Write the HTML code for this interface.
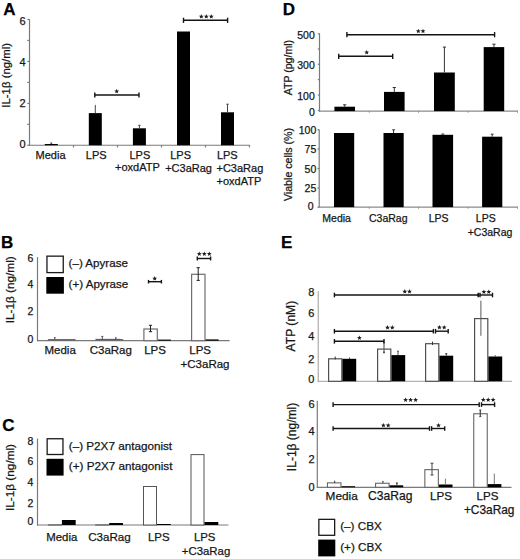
<!DOCTYPE html>
<html><head><meta charset="utf-8"><style>
html,body{margin:0;padding:0;background:#fff;}
body{width:520px;height:559px;overflow:hidden;}
svg{display:block;font-family:"Liberation Sans",sans-serif;}
</style></head><body>
<svg width="520" height="559" viewBox="0 0 520 559" shape-rendering="auto">
<rect width="520" height="559" fill="#fff"/>
<text x="3.3" y="15" font-size="17" text-anchor="start" font-weight="bold" fill="#000" stroke="#000" stroke-width="0.25">A</text>
<line x1="29.5" y1="19.3" x2="29.5" y2="145.85" stroke="#7a7a7a" stroke-width="1.2"/>
<line x1="29.0" y1="145.25" x2="249.8" y2="145.25" stroke="#7a7a7a" stroke-width="1.2"/>
<line x1="27.3" y1="145.25" x2="29.5" y2="145.25" stroke="#7a7a7a" stroke-width="1.2"/>
<line x1="27.3" y1="124.28999999999999" x2="29.5" y2="124.28999999999999" stroke="#7a7a7a" stroke-width="1.2"/>
<line x1="27.3" y1="103.33" x2="29.5" y2="103.33" stroke="#7a7a7a" stroke-width="1.2"/>
<line x1="27.3" y1="82.37" x2="29.5" y2="82.37" stroke="#7a7a7a" stroke-width="1.2"/>
<line x1="27.3" y1="61.41" x2="29.5" y2="61.41" stroke="#7a7a7a" stroke-width="1.2"/>
<line x1="27.3" y1="40.44999999999999" x2="29.5" y2="40.44999999999999" stroke="#7a7a7a" stroke-width="1.2"/>
<line x1="27.3" y1="19.489999999999995" x2="29.5" y2="19.489999999999995" stroke="#7a7a7a" stroke-width="1.2"/>
<text x="25.7" y="148.4" font-size="11" text-anchor="end" font-weight="normal" fill="#161616" stroke="#161616" stroke-width="0.25">0</text>
<text x="25.7" y="107.2" font-size="11" text-anchor="end" font-weight="normal" fill="#161616" stroke="#161616" stroke-width="0.25">2</text>
<text x="25.7" y="65.9" font-size="11" text-anchor="end" font-weight="normal" fill="#161616" stroke="#161616" stroke-width="0.25">4</text>
<text x="25.7" y="24.6" font-size="11" text-anchor="end" font-weight="normal" fill="#161616" stroke="#161616" stroke-width="0.25">6</text>
<line x1="73.5" y1="145.25" x2="73.5" y2="147.45" stroke="#7a7a7a" stroke-width="1.2"/>
<line x1="117.5" y1="145.25" x2="117.5" y2="147.45" stroke="#7a7a7a" stroke-width="1.2"/>
<line x1="161.5" y1="145.25" x2="161.5" y2="147.45" stroke="#7a7a7a" stroke-width="1.2"/>
<line x1="205.5" y1="145.25" x2="205.5" y2="147.45" stroke="#7a7a7a" stroke-width="1.2"/>
<line x1="249.5" y1="145.25" x2="249.5" y2="147.45" stroke="#7a7a7a" stroke-width="1.2"/>
<text transform="translate(10.3,75.3) rotate(-90)" font-size="11.4" text-anchor="middle" fill="#161616" stroke="#161616" stroke-width="0.25">IL-1&#946; (ng/ml)</text>
<rect x="44.8" y="144.0" width="13.0" height="1.25" fill="#000"/>
<line x1="51.3" y1="143.0" x2="51.3" y2="144.0" stroke="#444" stroke-width="1.0"/>
<line x1="50.3" y1="143.0" x2="52.3" y2="143.0" stroke="#444" stroke-width="1.0"/>
<rect x="88.8" y="113.1" width="13.0" height="32.150000000000006" fill="#000"/>
<line x1="95.3" y1="105.3" x2="95.3" y2="113.1" stroke="#444" stroke-width="1.0"/>
<line x1="95.0" y1="105.3" x2="95.6" y2="105.3" stroke="#444" stroke-width="1.0"/>
<rect x="132.9" y="128.3" width="13.0" height="16.94999999999999" fill="#000"/>
<line x1="139.4" y1="125.3" x2="139.4" y2="128.3" stroke="#444" stroke-width="1.0"/>
<line x1="138.20000000000002" y1="125.3" x2="140.6" y2="125.3" stroke="#444" stroke-width="1.0"/>
<rect x="177.0" y="31.5" width="13.0" height="113.75" fill="#000"/>
<rect x="221.0" y="112.3" width="13.0" height="32.95" fill="#000"/>
<line x1="227.5" y1="104.2" x2="227.5" y2="112.3" stroke="#444" stroke-width="1.0"/>
<line x1="226.3" y1="104.2" x2="228.7" y2="104.2" stroke="#444" stroke-width="1.0"/>
<text x="35.6" y="158.7" font-size="11" text-anchor="start" font-weight="normal" fill="#161616" stroke="#161616" stroke-width="0.25">Media</text>
<text x="85.8" y="158.6" font-size="11" text-anchor="start" font-weight="normal" fill="#161616" stroke="#161616" stroke-width="0.25">LPS</text>
<text x="129.5" y="158.6" font-size="11" text-anchor="start" font-weight="normal" fill="#161616" stroke="#161616" stroke-width="0.25">LPS</text>
<text x="115.0" y="171.3" font-size="11" text-anchor="start" font-weight="normal" fill="#161616" stroke="#161616" stroke-width="0.25">+oxdATP</text>
<text x="170.2" y="158.6" font-size="11" text-anchor="start" font-weight="normal" fill="#161616" stroke="#161616" stroke-width="0.25">LPS</text>
<text x="165.2" y="171.8" font-size="11" text-anchor="start" font-weight="normal" fill="#161616" stroke="#161616" stroke-width="0.25">+C3aRag</text>
<text x="216.9" y="158.6" font-size="11" text-anchor="start" font-weight="normal" fill="#161616" stroke="#161616" stroke-width="0.25">LPS</text>
<text x="216.5" y="172.0" font-size="11" text-anchor="start" font-weight="normal" fill="#161616" stroke="#161616" stroke-width="0.25">+C3aRag</text>
<text x="216.5" y="185.0" font-size="11" text-anchor="start" font-weight="normal" fill="#161616" stroke="#161616" stroke-width="0.25">+oxdATP</text>
<line x1="94.8" y1="95.0" x2="139.0" y2="95.0" stroke="#141414" stroke-width="1.4"/>
<line x1="94.8" y1="92.4" x2="94.8" y2="97.6" stroke="#141414" stroke-width="1.4"/>
<line x1="139.0" y1="92.4" x2="139.0" y2="97.6" stroke="#141414" stroke-width="1.4"/>
<polygon points="116.70,88.80 117.36,90.39 119.08,90.53 117.77,91.65 118.17,93.32 116.70,92.42 115.23,93.32 115.63,91.65 114.32,90.53 116.04,90.39" fill="#1e1e1e"/>
<line x1="183.5" y1="20.3" x2="227.6" y2="20.3" stroke="#141414" stroke-width="1.4"/>
<line x1="183.5" y1="17.7" x2="183.5" y2="22.900000000000002" stroke="#141414" stroke-width="1.4"/>
<line x1="227.6" y1="17.7" x2="227.6" y2="22.900000000000002" stroke="#141414" stroke-width="1.4"/>
<polygon points="201.30,14.10 201.96,15.69 203.68,15.83 202.37,16.95 202.77,18.62 201.30,17.73 199.83,18.62 200.23,16.95 198.92,15.83 200.64,15.69" fill="#1e1e1e"/>
<polygon points="206.30,14.10 206.96,15.69 208.68,15.83 207.37,16.95 207.77,18.62 206.30,17.73 204.83,18.62 205.23,16.95 203.92,15.83 205.64,15.69" fill="#1e1e1e"/>
<polygon points="211.30,14.10 211.96,15.69 213.68,15.83 212.37,16.95 212.77,18.62 211.30,17.73 209.83,18.62 210.23,16.95 208.92,15.83 210.64,15.69" fill="#1e1e1e"/>
<text x="0.9" y="248.1" font-size="17" text-anchor="start" font-weight="bold" fill="#000" stroke="#000" stroke-width="0.25">B</text>
<line x1="37.5" y1="257.1" x2="37.5" y2="341.3" stroke="#7a7a7a" stroke-width="1.2"/>
<line x1="37.0" y1="340.7" x2="229.6" y2="340.7" stroke="#7a7a7a" stroke-width="1.2"/>
<text x="33.3" y="343.09999999999997" font-size="10.5" text-anchor="end" font-weight="normal" fill="#161616" stroke="#161616" stroke-width="0.25">0</text>
<text x="33.3" y="315.2" font-size="10.5" text-anchor="end" font-weight="normal" fill="#161616" stroke="#161616" stroke-width="0.25">2</text>
<text x="33.3" y="287.7" font-size="10.5" text-anchor="end" font-weight="normal" fill="#161616" stroke="#161616" stroke-width="0.25">4</text>
<text x="33.3" y="261.5" font-size="10.5" text-anchor="end" font-weight="normal" fill="#161616" stroke="#161616" stroke-width="0.25">6</text>
<text transform="translate(14.2,289.8) rotate(-90)" font-size="11.8" text-anchor="middle" fill="#161616" stroke="#161616" stroke-width="0.25">IL-1&#946; (ng/ml)</text>
<rect x="143.9" y="329.0" width="13.399999999999995" height="11.700000000000012" fill="#fff" stroke="#6e6e6e" stroke-width="1.2"/>
<rect x="157.9" y="339.6" width="13.0" height="1.099999999999966" fill="#000"/>
<rect x="191.6" y="274.3" width="13.399999999999995" height="66.4" fill="#fff" stroke="#6e6e6e" stroke-width="1.2"/>
<rect x="205.6" y="339.4" width="13.0" height="1.3000000000000114" fill="#000"/>
<line x1="47.9" y1="339.7" x2="75.5" y2="339.7" stroke="#333" stroke-width="0.9"/>
<line x1="95.60000000000001" y1="339.7" x2="123.2" y2="339.7" stroke="#333" stroke-width="0.9"/>
<line x1="95.60000000000001" y1="339.3" x2="120.2" y2="339.3" stroke="#555" stroke-width="0.7"/>
<line x1="54.8" y1="337.6" x2="54.8" y2="339.6" stroke="#444" stroke-width="0.9"/>
<line x1="54.0" y1="337.6" x2="55.599999999999994" y2="337.6" stroke="#444" stroke-width="0.9"/>
<line x1="102.3" y1="336.4" x2="102.3" y2="339.3" stroke="#444" stroke-width="0.9"/>
<line x1="101.3" y1="336.4" x2="103.3" y2="336.4" stroke="#444" stroke-width="0.9"/>
<line x1="115.8" y1="337.8" x2="115.8" y2="339.9" stroke="#444" stroke-width="0.9"/>
<line x1="115.0" y1="337.8" x2="116.6" y2="337.8" stroke="#444" stroke-width="0.9"/>
<line x1="150.5" y1="325.3" x2="150.5" y2="331.7" stroke="#1e1e1e" stroke-width="1.0"/>
<line x1="148.9" y1="325.3" x2="152.1" y2="325.3" stroke="#1e1e1e" stroke-width="1.0"/>
<line x1="148.9" y1="331.7" x2="152.1" y2="331.7" stroke="#1e1e1e" stroke-width="1.0"/>
<line x1="198.2" y1="267.7" x2="198.2" y2="280.4" stroke="#1e1e1e" stroke-width="1.0"/>
<line x1="196.6" y1="267.7" x2="199.8" y2="267.7" stroke="#1e1e1e" stroke-width="1.0"/>
<line x1="196.6" y1="280.4" x2="199.8" y2="280.4" stroke="#1e1e1e" stroke-width="1.0"/>
<line x1="148.5" y1="281.7" x2="161.4" y2="281.7" stroke="#141414" stroke-width="1.4"/>
<line x1="148.5" y1="279.9" x2="148.5" y2="283.5" stroke="#141414" stroke-width="1.4"/>
<line x1="161.4" y1="279.9" x2="161.4" y2="283.5" stroke="#141414" stroke-width="1.4"/>
<polygon points="154.70,276.10 155.36,277.69 157.08,277.83 155.77,278.95 156.17,280.62 154.70,279.73 153.23,280.62 153.63,278.95 152.32,277.83 154.04,277.69" fill="#1e1e1e"/>
<line x1="197.3" y1="258.5" x2="210.6" y2="258.5" stroke="#141414" stroke-width="1.4"/>
<line x1="197.3" y1="256.5" x2="197.3" y2="260.5" stroke="#141414" stroke-width="1.4"/>
<line x1="210.6" y1="256.5" x2="210.6" y2="260.5" stroke="#141414" stroke-width="1.4"/>
<polygon points="199.30,251.50 199.96,253.09 201.68,253.23 200.37,254.35 200.77,256.02 199.30,255.12 197.83,256.02 198.23,254.35 196.92,253.23 198.64,253.09" fill="#1e1e1e"/>
<polygon points="204.30,251.50 204.96,253.09 206.68,253.23 205.37,254.35 205.77,256.02 204.30,255.12 202.83,256.02 203.23,254.35 201.92,253.23 203.64,253.09" fill="#1e1e1e"/>
<polygon points="209.30,251.50 209.96,253.09 211.68,253.23 210.37,254.35 210.77,256.02 209.30,255.12 207.83,256.02 208.23,254.35 206.92,253.23 208.64,253.09" fill="#1e1e1e"/>
<rect x="46.949999999999996" y="256.15" width="16.3" height="16.450000000000024" fill="#fff" stroke="#1a1a1a" stroke-width="1.3"/>
<rect x="46.3" y="277.0" width="17.6" height="16.7" fill="#000"/>
<text x="68.6" y="266.9" font-size="11.6" text-anchor="start" font-weight="normal" fill="#161616" stroke="#161616" stroke-width="0.25">(&#8211;) Apyrase</text>
<text x="68.6" y="287.8" font-size="11.6" text-anchor="start" font-weight="normal" fill="#161616" stroke="#161616" stroke-width="0.25">(+) Apyrase</text>
<text x="44.5" y="353.7" font-size="11.5" text-anchor="start" font-weight="normal" fill="#161616" stroke="#161616" stroke-width="0.25">Media</text>
<text x="89.7" y="353.7" font-size="11.5" text-anchor="start" font-weight="normal" fill="#161616" stroke="#161616" stroke-width="0.25">C3aRag</text>
<text x="144.2" y="353.7" font-size="11.5" text-anchor="start" font-weight="normal" fill="#161616" stroke="#161616" stroke-width="0.25">LPS</text>
<text x="189.3" y="353.7" font-size="11.5" text-anchor="start" font-weight="normal" fill="#161616" stroke="#161616" stroke-width="0.25">LPS</text>
<text x="180.6" y="368.3" font-size="11.5" text-anchor="start" font-weight="normal" fill="#161616" stroke="#161616" stroke-width="0.25">+C3aRag</text>
<text x="2.3" y="431.3" font-size="17" text-anchor="start" font-weight="bold" fill="#000" stroke="#000" stroke-width="0.25">C</text>
<line x1="37.5" y1="438.5" x2="37.5" y2="525.6" stroke="#7a7a7a" stroke-width="1.2"/>
<line x1="37.0" y1="525.0" x2="228.4" y2="525.0" stroke="#7a7a7a" stroke-width="1.2"/>
<text x="33.3" y="525.2" font-size="10.5" text-anchor="end" font-weight="normal" fill="#161616" stroke="#161616" stroke-width="0.25">0</text>
<text x="33.3" y="507.09999999999997" font-size="10.5" text-anchor="end" font-weight="normal" fill="#161616" stroke="#161616" stroke-width="0.25">2</text>
<text x="33.3" y="485.59999999999997" font-size="10.5" text-anchor="end" font-weight="normal" fill="#161616" stroke="#161616" stroke-width="0.25">4</text>
<text x="33.3" y="464.7" font-size="10.5" text-anchor="end" font-weight="normal" fill="#161616" stroke="#161616" stroke-width="0.25">6</text>
<text x="33.3" y="444.7" font-size="10.5" text-anchor="end" font-weight="normal" fill="#161616" stroke="#161616" stroke-width="0.25">8</text>
<text transform="translate(14.4,477.5) rotate(-90)" font-size="11.8" text-anchor="middle" fill="#161616" stroke="#161616" stroke-width="0.25">IL-1&#946; (ng/ml)</text>
<rect x="48.4" y="524.9" width="13.0" height="0.10000000000002274" fill="#fff" stroke="#555" stroke-width="1.0"/>
<rect x="61.9" y="520.0" width="13.800000000000004" height="5.0" fill="#000"/>
<rect x="95.7" y="524.9" width="13.0" height="0.10000000000002274" fill="#fff" stroke="#555" stroke-width="1.0"/>
<rect x="109.2" y="523.0" width="13.799999999999997" height="2.0" fill="#000"/>
<rect x="143.5" y="486.5" width="13.0" height="38.5" fill="#fff" stroke="#555" stroke-width="1.0"/>
<rect x="157.0" y="524.0" width="13.800000000000011" height="1.0" fill="#000"/>
<rect x="191.0" y="454.6" width="13.0" height="70.39999999999998" fill="#fff" stroke="#555" stroke-width="1.0"/>
<rect x="204.5" y="522.0" width="13.800000000000011" height="3.0" fill="#000"/>
<rect x="47.15" y="438.75" width="15.8" height="15.749999999999977" fill="#fff" stroke="#1a1a1a" stroke-width="1.3"/>
<rect x="46.5" y="458.8" width="17.1" height="16.8" fill="#000"/>
<text x="68.8" y="449.6" font-size="11.7" text-anchor="start" font-weight="normal" fill="#161616" stroke="#161616" stroke-width="0.25">(&#8211;) P2X7 antagonist</text>
<text x="68.8" y="469.8" font-size="11.7" text-anchor="start" font-weight="normal" fill="#161616" stroke="#161616" stroke-width="0.25">(+) P2X7 antagonist</text>
<text x="46.3" y="540.9" font-size="11.4" text-anchor="start" font-weight="normal" fill="#161616" stroke="#161616" stroke-width="0.25">Media</text>
<text x="88.2" y="541.1" font-size="11.6" text-anchor="start" font-weight="normal" fill="#161616" stroke="#161616" stroke-width="0.25">C3aRag</text>
<text x="148.0" y="541.2" font-size="11.4" text-anchor="start" font-weight="normal" fill="#161616" stroke="#161616" stroke-width="0.25">LPS</text>
<text x="193.9" y="541.2" font-size="11.4" text-anchor="start" font-weight="normal" fill="#161616" stroke="#161616" stroke-width="0.25">LPS</text>
<text x="181.8" y="554.7" font-size="11.4" text-anchor="start" font-weight="normal" fill="#161616" stroke="#161616" stroke-width="0.25">+C3aRag</text>
<text x="282.8" y="15.1" font-size="17" text-anchor="start" font-weight="bold" fill="#000" stroke="#000" stroke-width="0.25">D</text>
<line x1="319.5" y1="33.4" x2="319.5" y2="111.69999999999999" stroke="#7a7a7a" stroke-width="1.2"/>
<line x1="319.0" y1="111.1" x2="518.0" y2="111.1" stroke="#8a8a8a" stroke-width="1.1"/>
<line x1="369.3" y1="111.1" x2="369.3" y2="112.69999999999999" stroke="#8a8a8a" stroke-width="1.0"/>
<line x1="418.6" y1="111.1" x2="418.6" y2="112.69999999999999" stroke="#8a8a8a" stroke-width="1.0"/>
<line x1="468.2" y1="111.1" x2="468.2" y2="112.69999999999999" stroke="#8a8a8a" stroke-width="1.0"/>
<line x1="517.5" y1="111.1" x2="517.5" y2="112.69999999999999" stroke="#8a8a8a" stroke-width="1.0"/>
<line x1="317.8" y1="33.8" x2="319.5" y2="33.8" stroke="#7a7a7a" stroke-width="1.2"/>
<line x1="317.8" y1="49.0" x2="319.5" y2="49.0" stroke="#7a7a7a" stroke-width="1.2"/>
<line x1="317.8" y1="64.3" x2="319.5" y2="64.3" stroke="#7a7a7a" stroke-width="1.2"/>
<line x1="317.8" y1="79.6" x2="319.5" y2="79.6" stroke="#7a7a7a" stroke-width="1.2"/>
<line x1="317.8" y1="95.0" x2="319.5" y2="95.0" stroke="#7a7a7a" stroke-width="1.2"/>
<line x1="317.8" y1="110.5" x2="319.5" y2="110.5" stroke="#7a7a7a" stroke-width="1.2"/>
<text x="314.8" y="38.9" font-size="10.5" text-anchor="end" font-weight="normal" fill="#161616" stroke="#161616" stroke-width="0.25">500</text>
<text x="314.8" y="69.39999999999999" font-size="10.5" text-anchor="end" font-weight="normal" fill="#161616" stroke="#161616" stroke-width="0.25">300</text>
<text x="314.8" y="100.1" font-size="10.5" text-anchor="end" font-weight="normal" fill="#161616" stroke="#161616" stroke-width="0.25">100</text>
<text x="314.8" y="115.6" font-size="10.5" text-anchor="end" font-weight="normal" fill="#161616" stroke="#161616" stroke-width="0.25">0</text>
<text transform="translate(291.5,67.6) rotate(-90)" font-size="10.55" text-anchor="middle" fill="#161616" stroke="#161616" stroke-width="0.25">ATP (pg/ml)</text>
<rect x="334.4" y="106.7" width="20.600000000000023" height="4.3999999999999915" fill="#000"/>
<line x1="344.7" y1="104.8" x2="344.7" y2="106.7" stroke="#333" stroke-width="1.0"/>
<line x1="343.09999999999997" y1="104.8" x2="346.3" y2="104.8" stroke="#333" stroke-width="1.0"/>
<rect x="384.0" y="91.9" width="20.600000000000023" height="19.19999999999999" fill="#000"/>
<line x1="394.3" y1="87.5" x2="394.3" y2="91.9" stroke="#333" stroke-width="1.0"/>
<line x1="392.7" y1="87.5" x2="395.90000000000003" y2="87.5" stroke="#333" stroke-width="1.0"/>
<rect x="434.0" y="72.5" width="20.80000000000001" height="38.599999999999994" fill="#000"/>
<line x1="444.4" y1="47.1" x2="444.4" y2="72.5" stroke="#333" stroke-width="1.0"/>
<line x1="442.79999999999995" y1="47.1" x2="446.0" y2="47.1" stroke="#333" stroke-width="1.0"/>
<rect x="483.7" y="47.1" width="20.5" height="63.99999999999999" fill="#000"/>
<line x1="493.95" y1="44.2" x2="493.95" y2="47.1" stroke="#333" stroke-width="1.0"/>
<line x1="492.34999999999997" y1="44.2" x2="495.55" y2="44.2" stroke="#333" stroke-width="1.0"/>
<line x1="338.7" y1="56.3" x2="392.7" y2="56.3" stroke="#141414" stroke-width="1.4"/>
<line x1="338.7" y1="53.699999999999996" x2="338.7" y2="58.9" stroke="#141414" stroke-width="1.4"/>
<line x1="392.7" y1="53.699999999999996" x2="392.7" y2="58.9" stroke="#141414" stroke-width="1.4"/>
<polygon points="366.70,50.00 367.36,51.59 369.08,51.73 367.77,52.85 368.17,54.52 366.70,53.62 365.23,54.52 365.63,52.85 364.32,51.73 366.04,51.59" fill="#1e1e1e"/>
<line x1="346.9" y1="34.7" x2="494.6" y2="34.7" stroke="#141414" stroke-width="1.4"/>
<line x1="346.9" y1="32.1" x2="346.9" y2="37.300000000000004" stroke="#141414" stroke-width="1.4"/>
<line x1="494.6" y1="32.1" x2="494.6" y2="37.300000000000004" stroke="#141414" stroke-width="1.4"/>
<polygon points="418.30,28.70 418.96,30.29 420.68,30.43 419.37,31.55 419.77,33.22 418.30,32.33 416.83,33.22 417.23,31.55 415.92,30.43 417.64,30.29" fill="#1e1e1e"/>
<polygon points="423.00,28.70 423.66,30.29 425.38,30.43 424.07,31.55 424.47,33.22 423.00,32.33 421.53,33.22 421.93,31.55 420.62,30.43 422.34,30.29" fill="#1e1e1e"/>
<line x1="319.2" y1="129.5" x2="319.2" y2="207.7" stroke="#7a7a7a" stroke-width="1.2"/>
<line x1="318.7" y1="207.1" x2="518.0" y2="207.1" stroke="#8a8a8a" stroke-width="1.1"/>
<line x1="369.3" y1="207.1" x2="369.3" y2="208.7" stroke="#8a8a8a" stroke-width="1.0"/>
<line x1="418.6" y1="207.1" x2="418.6" y2="208.7" stroke="#8a8a8a" stroke-width="1.0"/>
<line x1="468.2" y1="207.1" x2="468.2" y2="208.7" stroke="#8a8a8a" stroke-width="1.0"/>
<line x1="517.5" y1="207.1" x2="517.5" y2="208.7" stroke="#8a8a8a" stroke-width="1.0"/>
<line x1="317.5" y1="129.7" x2="319.2" y2="129.7" stroke="#7a7a7a" stroke-width="1.2"/>
<line x1="317.5" y1="149.0" x2="319.2" y2="149.0" stroke="#7a7a7a" stroke-width="1.2"/>
<line x1="317.5" y1="168.6" x2="319.2" y2="168.6" stroke="#7a7a7a" stroke-width="1.2"/>
<line x1="317.5" y1="188.0" x2="319.2" y2="188.0" stroke="#7a7a7a" stroke-width="1.2"/>
<line x1="317.5" y1="207.1" x2="319.2" y2="207.1" stroke="#7a7a7a" stroke-width="1.2"/>
<text x="316.3" y="134.1" font-size="10.5" text-anchor="end" font-weight="normal" fill="#161616" stroke="#161616" stroke-width="0.25">100</text>
<text x="316.3" y="153.4" font-size="10.5" text-anchor="end" font-weight="normal" fill="#161616" stroke="#161616" stroke-width="0.25">75</text>
<text x="316.3" y="173.0" font-size="10.5" text-anchor="end" font-weight="normal" fill="#161616" stroke="#161616" stroke-width="0.25">50</text>
<text x="316.3" y="192.0" font-size="10.5" text-anchor="end" font-weight="normal" fill="#161616" stroke="#161616" stroke-width="0.25">25</text>
<text x="313.5" y="210.10000000000002" font-size="10.5" text-anchor="end" font-weight="normal" fill="#161616" stroke="#161616" stroke-width="0.25">0</text>
<text transform="translate(292.3,164.5) rotate(-90)" font-size="10.65" text-anchor="middle" fill="#161616" stroke="#161616" stroke-width="0.25">Viable cells (%)</text>
<rect x="334.0" y="133.0" width="20.19999999999999" height="74.1" fill="#000"/>
<rect x="383.5" y="133.0" width="20.19999999999999" height="74.1" fill="#000"/>
<line x1="393.6" y1="129.8" x2="393.6" y2="133.0" stroke="#333" stroke-width="1.0"/>
<line x1="392.20000000000005" y1="129.8" x2="395.0" y2="129.8" stroke="#333" stroke-width="1.0"/>
<rect x="432.5" y="134.8" width="20.600000000000023" height="72.29999999999998" fill="#000"/>
<line x1="442.8" y1="134.0" x2="442.8" y2="134.8" stroke="#333" stroke-width="1.0"/>
<line x1="441.40000000000003" y1="134.0" x2="444.2" y2="134.0" stroke="#333" stroke-width="1.0"/>
<rect x="482.1" y="136.7" width="20.19999999999999" height="70.4" fill="#000"/>
<line x1="492.20000000000005" y1="134.2" x2="492.20000000000005" y2="136.7" stroke="#333" stroke-width="1.0"/>
<line x1="490.80000000000007" y1="134.2" x2="493.6" y2="134.2" stroke="#333" stroke-width="1.0"/>
<text x="322.3" y="222.3" font-size="10.5" text-anchor="start" font-weight="normal" fill="#161616" stroke="#161616" stroke-width="0.25">Media</text>
<text x="369.0" y="222.3" font-size="10.5" text-anchor="start" font-weight="normal" fill="#161616" stroke="#161616" stroke-width="0.25">C3aRag</text>
<text x="428.7" y="222.3" font-size="10.5" text-anchor="start" font-weight="normal" fill="#161616" stroke="#161616" stroke-width="0.25">LPS</text>
<text x="475.8" y="222.3" font-size="10.5" text-anchor="start" font-weight="normal" fill="#161616" stroke="#161616" stroke-width="0.25">LPS</text>
<text x="467.7" y="236.3" font-size="10.5" text-anchor="start" font-weight="normal" fill="#161616" stroke="#161616" stroke-width="0.25">+C3aRag</text>
<text x="280.9" y="248.2" font-size="17" text-anchor="start" font-weight="bold" fill="#000" stroke="#000" stroke-width="0.25">E</text>
<line x1="318.2" y1="291.2" x2="318.2" y2="381.8" stroke="#9a9a9a" stroke-width="1.0"/>
<line x1="317.7" y1="381.3" x2="512.0" y2="381.3" stroke="#a0a0a0" stroke-width="1.0"/>
<text x="314.4" y="383.29999999999995" font-size="11.0" text-anchor="end" font-weight="normal" fill="#161616" stroke="#161616" stroke-width="0.25">0</text>
<text x="314.4" y="362.5" font-size="11.0" text-anchor="end" font-weight="normal" fill="#161616" stroke="#161616" stroke-width="0.25">2</text>
<text x="314.4" y="340.4" font-size="11.0" text-anchor="end" font-weight="normal" fill="#161616" stroke="#161616" stroke-width="0.25">4</text>
<text x="314.4" y="317.09999999999997" font-size="11.0" text-anchor="end" font-weight="normal" fill="#161616" stroke="#161616" stroke-width="0.25">6</text>
<text x="314.4" y="295.9" font-size="11.0" text-anchor="end" font-weight="normal" fill="#161616" stroke="#161616" stroke-width="0.25">8</text>
<text transform="translate(294.6,326.1) rotate(-90)" font-size="12.1" text-anchor="middle" fill="#161616" stroke="#161616" stroke-width="0.25">ATP (nM)</text>
<rect x="328.6" y="358.8" width="13.199999999999978" height="22.50000000000002" fill="#fff" stroke="#505050" stroke-width="1.2"/>
<rect x="342.4" y="358.8" width="13.800000000000011" height="22.5" fill="#000"/>
<rect x="377.6" y="349.1" width="13.199999999999978" height="32.20000000000001" fill="#fff" stroke="#505050" stroke-width="1.2"/>
<rect x="391.4" y="355.1" width="13.800000000000011" height="26.19999999999999" fill="#000"/>
<rect x="425.6" y="343.70000000000005" width="13.199999999999978" height="37.59999999999999" fill="#fff" stroke="#505050" stroke-width="1.2"/>
<rect x="439.4" y="355.7" width="13.800000000000011" height="25.600000000000023" fill="#000"/>
<rect x="474.6" y="318.6" width="13.199999999999978" height="62.70000000000001" fill="#fff" stroke="#505050" stroke-width="1.2"/>
<rect x="488.4" y="356.5" width="13.800000000000011" height="24.80000000000001" fill="#000"/>
<line x1="335.2" y1="356.5" x2="335.2" y2="359.5" stroke="#333" stroke-width="1.0"/>
<line x1="349.5" y1="357.5" x2="349.5" y2="358.8" stroke="#333" stroke-width="1.0"/>
<line x1="384.0" y1="341.5" x2="384.0" y2="352.6" stroke="#555" stroke-width="1.1"/>
<circle cx="384.0" cy="352.4" r="0.9" fill="#333"/>
<line x1="398.0" y1="351.2" x2="398.0" y2="355.1" stroke="#555" stroke-width="1.0"/>
<line x1="397.0" y1="351.2" x2="399.0" y2="351.2" stroke="#555" stroke-width="1.0"/>
<line x1="432.5" y1="341.6" x2="432.5" y2="345.0" stroke="#333" stroke-width="1.0"/>
<line x1="446.3" y1="353.7" x2="446.3" y2="355.7" stroke="#333" stroke-width="1.0"/>
<line x1="445.3" y1="353.7" x2="447.3" y2="353.7" stroke="#333" stroke-width="1.0"/>
<line x1="480.9" y1="300.7" x2="480.9" y2="335.8" stroke="#5a5a5a" stroke-width="1.0"/>
<line x1="495.2" y1="355.2" x2="495.2" y2="356.5" stroke="#333" stroke-width="1.0"/>
<line x1="334.4" y1="295.0" x2="478.3" y2="295.0" stroke="#141414" stroke-width="1.4"/>
<line x1="334.4" y1="292.7" x2="334.4" y2="297.3" stroke="#141414" stroke-width="1.4"/>
<line x1="478.3" y1="292.7" x2="478.3" y2="297.3" stroke="#141414" stroke-width="1.4"/>
<polygon points="404.80,289.10 405.46,290.69 407.18,290.83 405.87,291.95 406.27,293.62 404.80,292.73 403.33,293.62 403.73,291.95 402.42,290.83 404.14,290.69" fill="#1e1e1e"/>
<polygon points="409.50,289.10 410.16,290.69 411.88,290.83 410.57,291.95 410.97,293.62 409.50,292.73 408.03,293.62 408.43,291.95 407.12,290.83 408.84,290.69" fill="#1e1e1e"/>
<circle cx="478.3" cy="295.0" r="1.5" fill="#1e1e1e"/>
<line x1="480.0" y1="295.0" x2="492.5" y2="295.0" stroke="#141414" stroke-width="1.4"/>
<line x1="480.0" y1="292.7" x2="480.0" y2="297.3" stroke="#141414" stroke-width="1.4"/>
<line x1="492.5" y1="292.7" x2="492.5" y2="297.3" stroke="#141414" stroke-width="1.4"/>
<polygon points="483.90,289.40 484.56,290.99 486.28,291.13 484.97,292.25 485.37,293.92 483.90,293.02 482.43,293.92 482.83,292.25 481.52,291.13 483.24,290.99" fill="#1e1e1e"/>
<polygon points="488.80,289.40 489.46,290.99 491.18,291.13 489.87,292.25 490.27,293.92 488.80,293.02 487.33,293.92 487.73,292.25 486.42,291.13 488.14,290.99" fill="#1e1e1e"/>
<line x1="334.4" y1="331.2" x2="433.4" y2="331.2" stroke="#141414" stroke-width="1.4"/>
<line x1="334.4" y1="328.9" x2="334.4" y2="333.5" stroke="#141414" stroke-width="1.4"/>
<line x1="433.4" y1="328.9" x2="433.4" y2="333.5" stroke="#141414" stroke-width="1.4"/>
<polygon points="387.50,325.10 388.16,326.69 389.88,326.83 388.57,327.95 388.97,329.62 387.50,328.73 386.03,329.62 386.43,327.95 385.12,326.83 386.84,326.69" fill="#1e1e1e"/>
<polygon points="392.30,325.10 392.96,326.69 394.68,326.83 393.37,327.95 393.77,329.62 392.30,328.73 390.83,329.62 391.23,327.95 389.92,326.83 391.64,326.69" fill="#1e1e1e"/>
<line x1="435.5" y1="331.2" x2="448.2" y2="331.2" stroke="#141414" stroke-width="1.4"/>
<line x1="435.5" y1="328.9" x2="435.5" y2="333.5" stroke="#141414" stroke-width="1.4"/>
<line x1="448.2" y1="328.9" x2="448.2" y2="333.5" stroke="#141414" stroke-width="1.4"/>
<polygon points="439.40,324.90 440.06,326.49 441.78,326.63 440.47,327.75 440.87,329.42 439.40,328.52 437.93,329.42 438.33,327.75 437.02,326.63 438.74,326.49" fill="#1e1e1e"/>
<polygon points="444.20,324.90 444.86,326.49 446.58,326.63 445.27,327.75 445.67,329.42 444.20,328.52 442.73,329.42 443.13,327.75 441.82,326.63 443.54,326.49" fill="#1e1e1e"/>
<line x1="334.4" y1="341.3" x2="384.0" y2="341.3" stroke="#141414" stroke-width="1.4"/>
<line x1="334.4" y1="339.0" x2="334.4" y2="343.6" stroke="#141414" stroke-width="1.4"/>
<line x1="384.0" y1="339.0" x2="384.0" y2="343.6" stroke="#141414" stroke-width="1.4"/>
<polygon points="359.40,335.50 360.06,337.09 361.78,337.23 360.47,338.35 360.87,340.02 359.40,339.12 357.93,340.02 358.33,338.35 357.02,337.23 358.74,337.09" fill="#1e1e1e"/>
<line x1="317.3" y1="400.8" x2="317.3" y2="487.90000000000003" stroke="#7a7a7a" stroke-width="1.2"/>
<line x1="316.8" y1="487.3" x2="511.5" y2="487.3" stroke="#7a7a7a" stroke-width="1.2"/>
<text x="314.6" y="491.2" font-size="11.0" text-anchor="end" font-weight="normal" fill="#161616" stroke="#161616" stroke-width="0.25">0</text>
<text x="314.6" y="463.4" font-size="11.0" text-anchor="end" font-weight="normal" fill="#161616" stroke="#161616" stroke-width="0.25">2</text>
<text x="314.6" y="435.09999999999997" font-size="11.0" text-anchor="end" font-weight="normal" fill="#161616" stroke="#161616" stroke-width="0.25">4</text>
<text x="314.6" y="407.5" font-size="11.0" text-anchor="end" font-weight="normal" fill="#161616" stroke="#161616" stroke-width="0.25">6</text>
<text transform="translate(296.0,437.0) rotate(-90)" font-size="12.0" text-anchor="middle" fill="#161616" stroke="#161616" stroke-width="0.25">IL-1&#946; (ng/ml)</text>
<rect x="327.45" y="482.85" width="13.500000000000023" height="4.45" fill="#fff" stroke="#666" stroke-width="1.1"/>
<rect x="341.5" y="486.2" width="13.600000000000023" height="1.1000000000000227" fill="#000"/>
<rect x="375.55" y="483.25" width="13.500000000000023" height="4.050000000000023" fill="#fff" stroke="#666" stroke-width="1.1"/>
<rect x="389.6" y="485.3" width="13.600000000000023" height="2.0" fill="#000"/>
<rect x="424.84999999999997" y="469.65000000000003" width="13.500000000000023" height="17.649999999999988" fill="#fff" stroke="#666" stroke-width="1.1"/>
<rect x="438.9" y="484.5" width="13.600000000000023" height="2.8000000000000114" fill="#000"/>
<rect x="473.75" y="413.75" width="13.500000000000023" height="73.55000000000003" fill="#fff" stroke="#666" stroke-width="1.1"/>
<rect x="487.8" y="484.1" width="13.600000000000023" height="3.1999999999999886" fill="#000"/>
<line x1="334.6" y1="481.2" x2="334.6" y2="483.2" stroke="#444" stroke-width="1.0"/>
<line x1="334.0" y1="481.2" x2="335.20000000000005" y2="481.2" stroke="#444" stroke-width="1.0"/>
<line x1="382.9" y1="481.4" x2="382.9" y2="483.4" stroke="#444" stroke-width="1.0"/>
<line x1="382.29999999999995" y1="481.4" x2="383.5" y2="481.4" stroke="#444" stroke-width="1.0"/>
<line x1="396.9" y1="483.0" x2="396.9" y2="485.3" stroke="#333" stroke-width="1.0"/>
<line x1="395.9" y1="483.0" x2="397.9" y2="483.0" stroke="#333" stroke-width="1.0"/>
<line x1="432.0" y1="463.2" x2="432.0" y2="475.0" stroke="#444" stroke-width="1.0"/>
<line x1="430.5" y1="463.2" x2="433.5" y2="463.2" stroke="#444" stroke-width="1.0"/>
<line x1="430.5" y1="475.0" x2="433.5" y2="475.0" stroke="#444" stroke-width="1.0"/>
<line x1="445.4" y1="478.6" x2="445.4" y2="484.5" stroke="#777" stroke-width="1.0"/>
<line x1="445.4" y1="478.6" x2="445.4" y2="478.6" stroke="#777" stroke-width="1.0"/>
<line x1="480.3" y1="410.0" x2="480.3" y2="416.6" stroke="#444" stroke-width="1.2"/>
<line x1="479.3" y1="410.0" x2="481.3" y2="410.0" stroke="#444" stroke-width="1.0"/>
<line x1="479.3" y1="416.6" x2="481.3" y2="416.6" stroke="#444" stroke-width="1.0"/>
<line x1="494.3" y1="473.7" x2="494.3" y2="484.1" stroke="#777" stroke-width="1.0"/>
<line x1="494.3" y1="473.7" x2="494.3" y2="473.7" stroke="#777" stroke-width="1.0"/>
<line x1="333.1" y1="404.6" x2="479.2" y2="404.6" stroke="#141414" stroke-width="1.4"/>
<line x1="333.1" y1="402.3" x2="333.1" y2="406.90000000000003" stroke="#141414" stroke-width="1.4"/>
<line x1="479.2" y1="402.3" x2="479.2" y2="406.90000000000003" stroke="#141414" stroke-width="1.4"/>
<polygon points="405.60,397.50 406.26,399.09 407.98,399.23 406.67,400.35 407.07,402.02 405.60,401.12 404.13,402.02 404.53,400.35 403.22,399.23 404.94,399.09" fill="#1e1e1e"/>
<polygon points="410.60,397.50 411.26,399.09 412.98,399.23 411.67,400.35 412.07,402.02 410.60,401.12 409.13,402.02 409.53,400.35 408.22,399.23 409.94,399.09" fill="#1e1e1e"/>
<polygon points="415.60,397.50 416.26,399.09 417.98,399.23 416.67,400.35 417.07,402.02 415.60,401.12 414.13,402.02 414.53,400.35 413.22,399.23 414.94,399.09" fill="#1e1e1e"/>
<line x1="481.5" y1="404.6" x2="494.6" y2="404.6" stroke="#141414" stroke-width="1.4"/>
<line x1="481.5" y1="402.3" x2="481.5" y2="406.90000000000003" stroke="#141414" stroke-width="1.4"/>
<line x1="494.6" y1="402.3" x2="494.6" y2="406.90000000000003" stroke="#141414" stroke-width="1.4"/>
<polygon points="483.30,397.30 483.96,398.89 485.68,399.03 484.37,400.15 484.77,401.82 483.30,400.93 481.83,401.82 482.23,400.15 480.92,399.03 482.64,398.89" fill="#1e1e1e"/>
<polygon points="488.20,397.30 488.86,398.89 490.58,399.03 489.27,400.15 489.67,401.82 488.20,400.93 486.73,401.82 487.13,400.15 485.82,399.03 487.54,398.89" fill="#1e1e1e"/>
<polygon points="493.10,397.30 493.76,398.89 495.48,399.03 494.17,400.15 494.57,401.82 493.10,400.93 491.63,401.82 492.03,400.15 490.72,399.03 492.44,398.89" fill="#1e1e1e"/>
<line x1="333.1" y1="428.5" x2="429.5" y2="428.5" stroke="#141414" stroke-width="1.4"/>
<line x1="333.1" y1="426.2" x2="333.1" y2="430.8" stroke="#141414" stroke-width="1.4"/>
<line x1="429.5" y1="426.2" x2="429.5" y2="430.8" stroke="#141414" stroke-width="1.4"/>
<polygon points="383.40,423.00 384.06,424.59 385.78,424.73 384.47,425.85 384.87,427.52 383.40,426.62 381.93,427.52 382.33,425.85 381.02,424.73 382.74,424.59" fill="#1e1e1e"/>
<polygon points="388.20,423.00 388.86,424.59 390.58,424.73 389.27,425.85 389.67,427.52 388.20,426.62 386.73,427.52 387.13,425.85 385.82,424.73 387.54,424.59" fill="#1e1e1e"/>
<line x1="431.6" y1="428.5" x2="444.7" y2="428.5" stroke="#141414" stroke-width="1.4"/>
<line x1="431.6" y1="426.2" x2="431.6" y2="430.8" stroke="#141414" stroke-width="1.4"/>
<line x1="444.7" y1="426.2" x2="444.7" y2="430.8" stroke="#141414" stroke-width="1.4"/>
<polygon points="438.50,422.90 439.16,424.49 440.88,424.63 439.57,425.75 439.97,427.42 438.50,426.52 437.03,427.42 437.43,425.75 436.12,424.63 437.84,424.49" fill="#1e1e1e"/>
<text x="325.6" y="499.8" font-size="11.8" text-anchor="start" font-weight="normal" fill="#161616" stroke="#161616" stroke-width="0.25">Media</text>
<text x="368.0" y="499.8" font-size="12.1" text-anchor="start" font-weight="normal" fill="#161616" stroke="#161616" stroke-width="0.25">C3aRag</text>
<text x="430.1" y="499.8" font-size="11.6" text-anchor="start" font-weight="normal" fill="#161616" stroke="#161616" stroke-width="0.25">LPS</text>
<text x="476.6" y="499.8" font-size="11.6" text-anchor="start" font-weight="normal" fill="#161616" stroke="#161616" stroke-width="0.25">LPS</text>
<text x="463.9" y="513.6" font-size="11.9" text-anchor="start" font-weight="normal" fill="#161616" stroke="#161616" stroke-width="0.25">+C3aRag</text>
<rect x="318.84999999999997" y="519.35" width="15.800000000000022" height="15.949999999999909" fill="#fff" stroke="#1a1a1a" stroke-width="1.3"/>
<rect x="318.2" y="539.6" width="17.1" height="16.8" fill="#000"/>
<text x="340.2" y="530.0" font-size="11.7" text-anchor="start" font-weight="normal" fill="#161616" stroke="#161616" stroke-width="0.25">(&#8211;) CBX</text>
<text x="340.2" y="550.5" font-size="11.7" text-anchor="start" font-weight="normal" fill="#161616" stroke="#161616" stroke-width="0.25">(+) CBX</text>
</svg>
</body></html>
